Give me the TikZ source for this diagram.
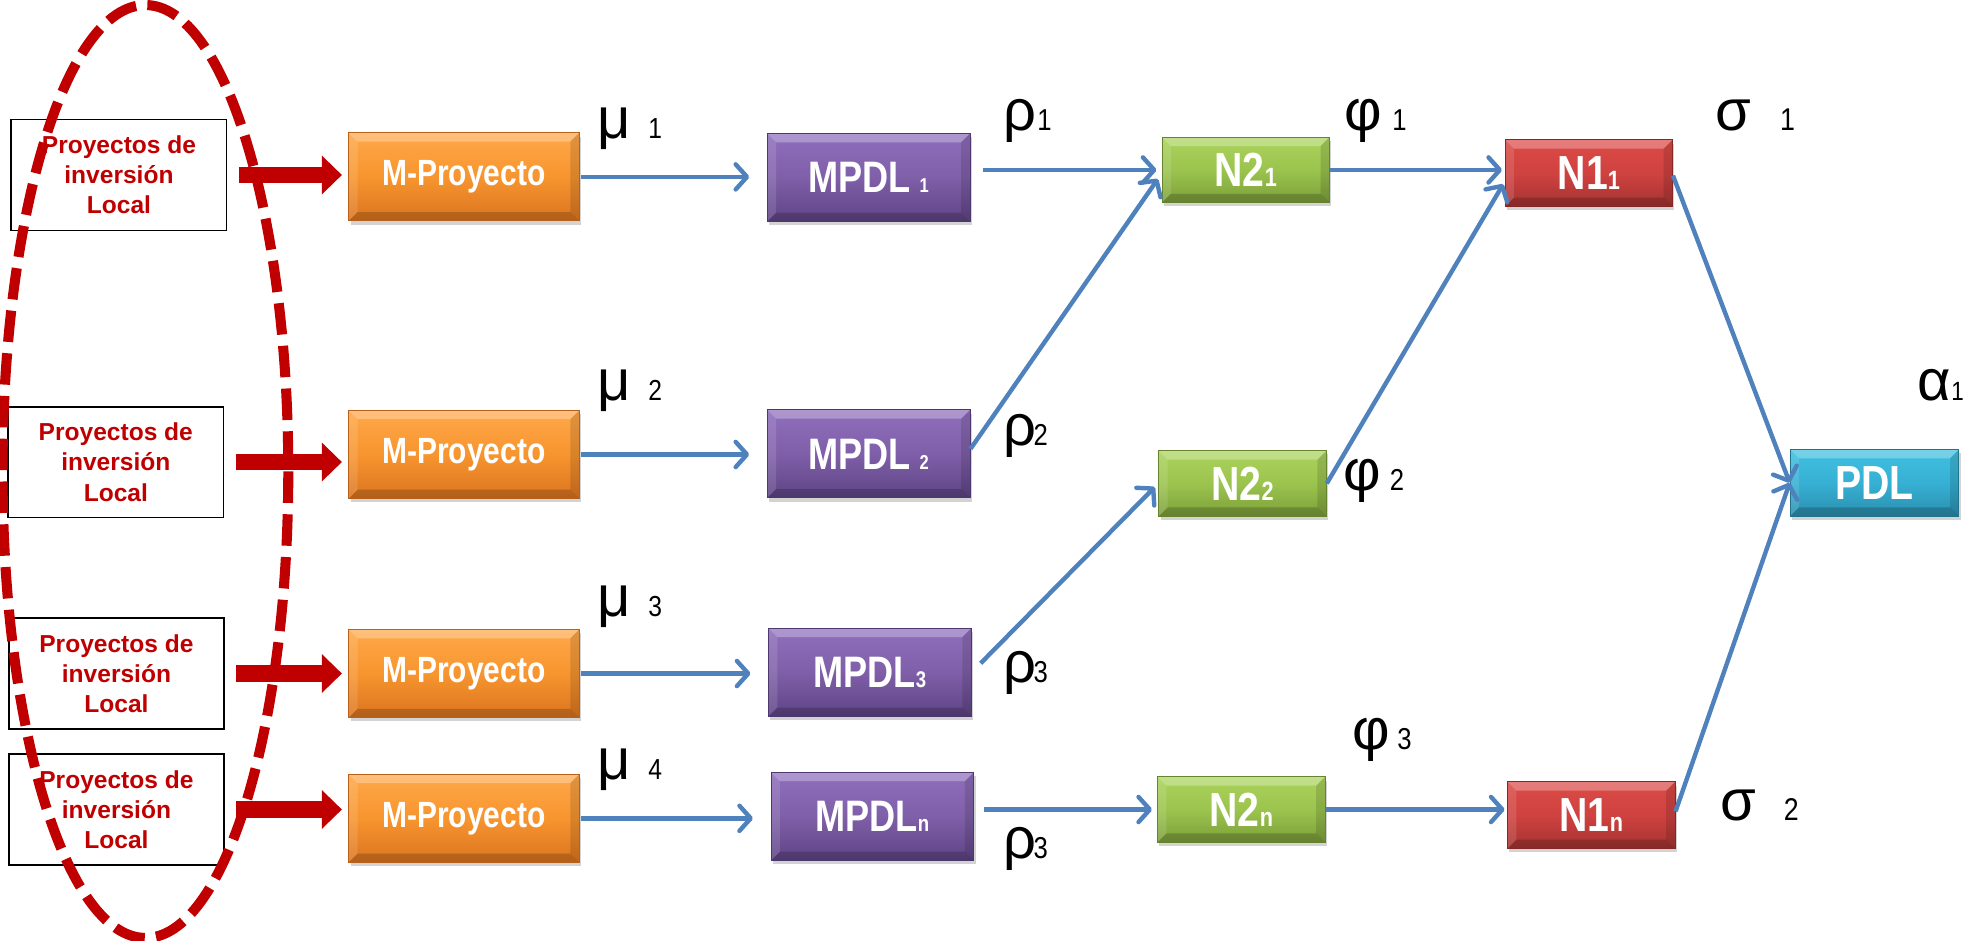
\documentclass[tikz,border=0pt]{standalone}
\usepackage{fontspec}
\setmainfont{Liberation Sans}
\newfontfamily\boxfont[FakeStretch=0.82]{Liberation Sans}
\newfontfamily\digfont[FakeStretch=0.85]{Liberation Sans}
\usetikzlibrary{arrows.meta,shadows,calc}
\definecolor{darkred}{HTML}{C00000}
\definecolor{lnblue}{HTML}{4F81BD}
\definecolor{orTop}{HTML}{FFA849}\definecolor{orMid}{HTML}{F7952F}\definecolor{orBot}{HTML}{DB741F}\definecolor{orDark}{HTML}{B8611A}
\definecolor{puTop}{HTML}{8F6FBD}\definecolor{puMid}{HTML}{7F5FA8}\definecolor{puBot}{HTML}{5E4485}\definecolor{puDark}{HTML}{4E3870}
\definecolor{grTop}{HTML}{ABD35C}\definecolor{grMid}{HTML}{9BC44E}\definecolor{grBot}{HTML}{7C9F3A}\definecolor{grDark}{HTML}{66832F}
\definecolor{rdTop}{HTML}{DC4A47}\definecolor{rdMid}{HTML}{CF4240}\definecolor{rdBot}{HTML}{A53331}\definecolor{rdDark}{HTML}{832826}
\definecolor{cyTop}{HTML}{40C0E0}\definecolor{cyMid}{HTML}{36B0D4}\definecolor{cyBot}{HTML}{2B8FAE}\definecolor{cyDark}{HTML}{22738C}
\newcommand\fsz[1]{\fontsize{#1}{#1}\selectfont}
\newcommand\greeklbl[6]{\node[lbl] (#1) at #2 {\fsz{46}\makebox[0pt][l]{#3}\hspace*{#4}\digfont\fsz{#6}#5};}
\tikzset{
  inbox/.style={draw=black, line width=1.4pt, fill=white, minimum width=171pt, minimum height=88pt,
    inner sep=0pt, align=center, text=darkred, font=\fontsize{19.5}{24}\selectfont\bfseries},
  bevel/.style={inner sep=0pt, text=white, font=\boxfont\bfseries, line width=0.8pt,
    drop shadow={shadow xshift=1.5pt, shadow yshift=-3pt, opacity=0.35},
    path picture={
      \fill[white,opacity=0.28] (path picture bounding box.north west) -- (path picture bounding box.north east)
        -- ([xshift=-7pt,yshift=-7pt]path picture bounding box.north east) -- ([xshift=7pt,yshift=-7pt]path picture bounding box.north west) -- cycle;
      \fill[white,opacity=0.12] (path picture bounding box.north west) -- ([xshift=7pt,yshift=-7pt]path picture bounding box.north west)
        -- ([xshift=7pt,yshift=7pt]path picture bounding box.south west) -- (path picture bounding box.south west) -- cycle;
      \fill[black,opacity=0.12] (path picture bounding box.north east) -- ([xshift=-7pt,yshift=-7pt]path picture bounding box.north east)
        -- ([xshift=-7pt,yshift=7pt]path picture bounding box.south east) -- (path picture bounding box.south east) -- cycle;
      \fill[black,opacity=0.18] (path picture bounding box.south west) -- (path picture bounding box.south east)
        -- ([xshift=-7pt,yshift=7pt]path picture bounding box.south east) -- ([xshift=7pt,yshift=7pt]path picture bounding box.south west) -- cycle;
    }},
  orbox/.style={bevel, minimum width=183pt, minimum height=70pt, top color=orTop, bottom color=orBot, middle color=orMid, draw=orDark},
  pubox/.style={bevel, minimum width=161pt, minimum height=70pt, top color=puTop, bottom color=puBot, middle color=puMid, draw=puDark},
  grbox/.style={bevel, minimum width=133pt, minimum height=52pt, top color=grTop, bottom color=grBot, middle color=grMid, draw=grDark},
  rdbox/.style={bevel, minimum width=133pt, minimum height=53pt, top color=rdTop, bottom color=rdBot, middle color=rdMid, draw=rdDark},
  cybox/.style={bevel, minimum width=134pt, minimum height=53pt, top color=cyTop, bottom color=cyBot, middle color=cyMid, draw=cyDark},
  flow/.style={draw=lnblue, line width=3.5pt, -{Straight Barb[length=9pt,width=20pt,round]}},
  bigred/.style={draw=darkred, line width=13pt, -{Triangle[length=16pt,width=30pt]}},
  lbl/.style={anchor=base west, inner sep=0pt, outer sep=0pt, text=black},
}
\begin{document}
\begin{tikzpicture}[x=1pt,y=-1pt]
\useasboundingbox (0,0) rectangle (1568,747);
% left boxes
\node[inbox] (lb1) at (94.5,139) {Proyectos de\\inversión\\Local};
\node[inbox] (lb2) at (92,367) {Proyectos de\\inversión\\Local};
\node[inbox] (lb3) at (92.5,535) {Proyectos de\\inversión\\Local};
\node[inbox] (lb4) at (92.5,643) {Proyectos de\\inversión\\Local};
% ellipse
\draw[darkred, line width=8pt, dash pattern=on 25pt off 9pt] (115.5,374.5) ellipse [x radius=113.5, y radius=370.5];
% orange boxes
\node[orbox] (mp1) at (368.5,140.5) {\fsz{29}M-Proyecto};
\node[orbox] (mp2) at (368.5,361) {\fsz{29}M-Proyecto};
\node[orbox] (mp3) at (368.5,535) {\fsz{29}M-Proyecto};
\node[orbox] (mp4) at (368.5,650) {\fsz{29}M-Proyecto};
% purple boxes
\node[pubox] (md1) at (690,141) {\fsz{35}MPDL\hspace{7pt}\fsz{16}1};
\node[pubox] (md2) at (690,360.5) {\fsz{35}MPDL\hspace{7pt}\fsz{16}2};
\node[pubox] (md3) at (691,534) {\fsz{35}MPDL\fsz{18}3};
\node[pubox] (md4) at (693,648.5) {\fsz{35}MPDL\fsz{18}n};
% green boxes
\node[grbox] (n21) at (989.5,135) {\fsz{38}N2\fsz{21}1};
\node[grbox] (n22) at (987,384) {\fsz{38}N2\fsz{21}2};
\node[grbox] (n2n) at (986,643) {\fsz{38}N2\fsz{21}n};
% red boxes
\node[rdbox] (n11) at (1262,137.5) {\fsz{38}N1\fsz{21}1};
\node[rdbox] (n1n) at (1264,647.5) {\fsz{38}N1\fsz{21}n};
% PDL
\node[cybox] (pdl) at (1489,383.5) {\fsz{38}PDL};
% red arrows
\foreach \i in {1,2,3,4}{
  \draw[bigred, shorten <=9pt, shorten >=5pt] (lb\i.east) -- (lb\i.east -| mp\i.west);
}
% blue arrows
\foreach \i in {1,2,3,4}{
  \draw[flow, shorten <=1pt, shorten >=14pt] (mp\i.east) -- (mp\i.east -| md\i.west);
}
\draw[flow, shorten <=10pt, shorten >=4pt] (n21.west -| md1.east) -- (n21.west);
\draw[flow, shorten >=5pt] ($(md2.east)+(0,-4)$) -- ($(n21.west)+(0,3)$);
\draw[flow, shorten <=10pt, shorten >=4pt] (md3.east) -- (n22.west);
\draw[flow, shorten <=8pt, shorten >=4pt] (n2n.west -| md4.east) -- (n2n.west);
\draw[flow, shorten >=2pt] (n21.east) -- (n21.east -| n11.west);
\draw[flow, shorten >=2pt] (n22.east) -- ($(n11.west)+(0,7)$);
\draw[flow, shorten >=2pt] (n2n.east) -- (n2n.east -| n1n.west);
\draw[flow] ($(n11.east)+(0,2)$) -- (pdl.west);
\draw[flow] ($(n1n.east)+(0,-3)$) -- (pdl.west);
% labels
\greeklbl{mu1}{(475,110)}{μ}{40pt}{1}{23}
\greeklbl{mu2}{(475,318)}{μ}{40pt}{2}{23}
\greeklbl{mu3}{(475,490)}{μ}{40pt}{3}{23}
\greeklbl{mu4}{(475,619)}{μ}{40pt}{4}{23}
\greeklbl{rho1}{(797,104)}{ρ}{27pt}{1}{24}
\greeklbl{rho2}{(797,354)}{ρ}{24pt}{2}{24}
\greeklbl{rho3}{(797,542)}{ρ}{24pt}{3}{24}
\greeklbl{rho4}{(797,682)}{ρ}{24pt}{3}{24}
\greeklbl{phi1}{(1068,104)}{φ}{38pt}{1}{24}
\greeklbl{phi2}{(1067,390)}{φ}{37pt}{2}{24}
\greeklbl{phi3}{(1074,595)}{φ}{36pt}{3}{24}
\greeklbl{sig1}{(1363,104)}{σ}{51pt}{1}{25}
\greeklbl{sig2}{(1367,652)}{σ}{50pt}{2}{25}
\greeklbl{alp1}{(1523,318)}{α}{27pt}{1}{21}
\end{tikzpicture}
\end{document}
